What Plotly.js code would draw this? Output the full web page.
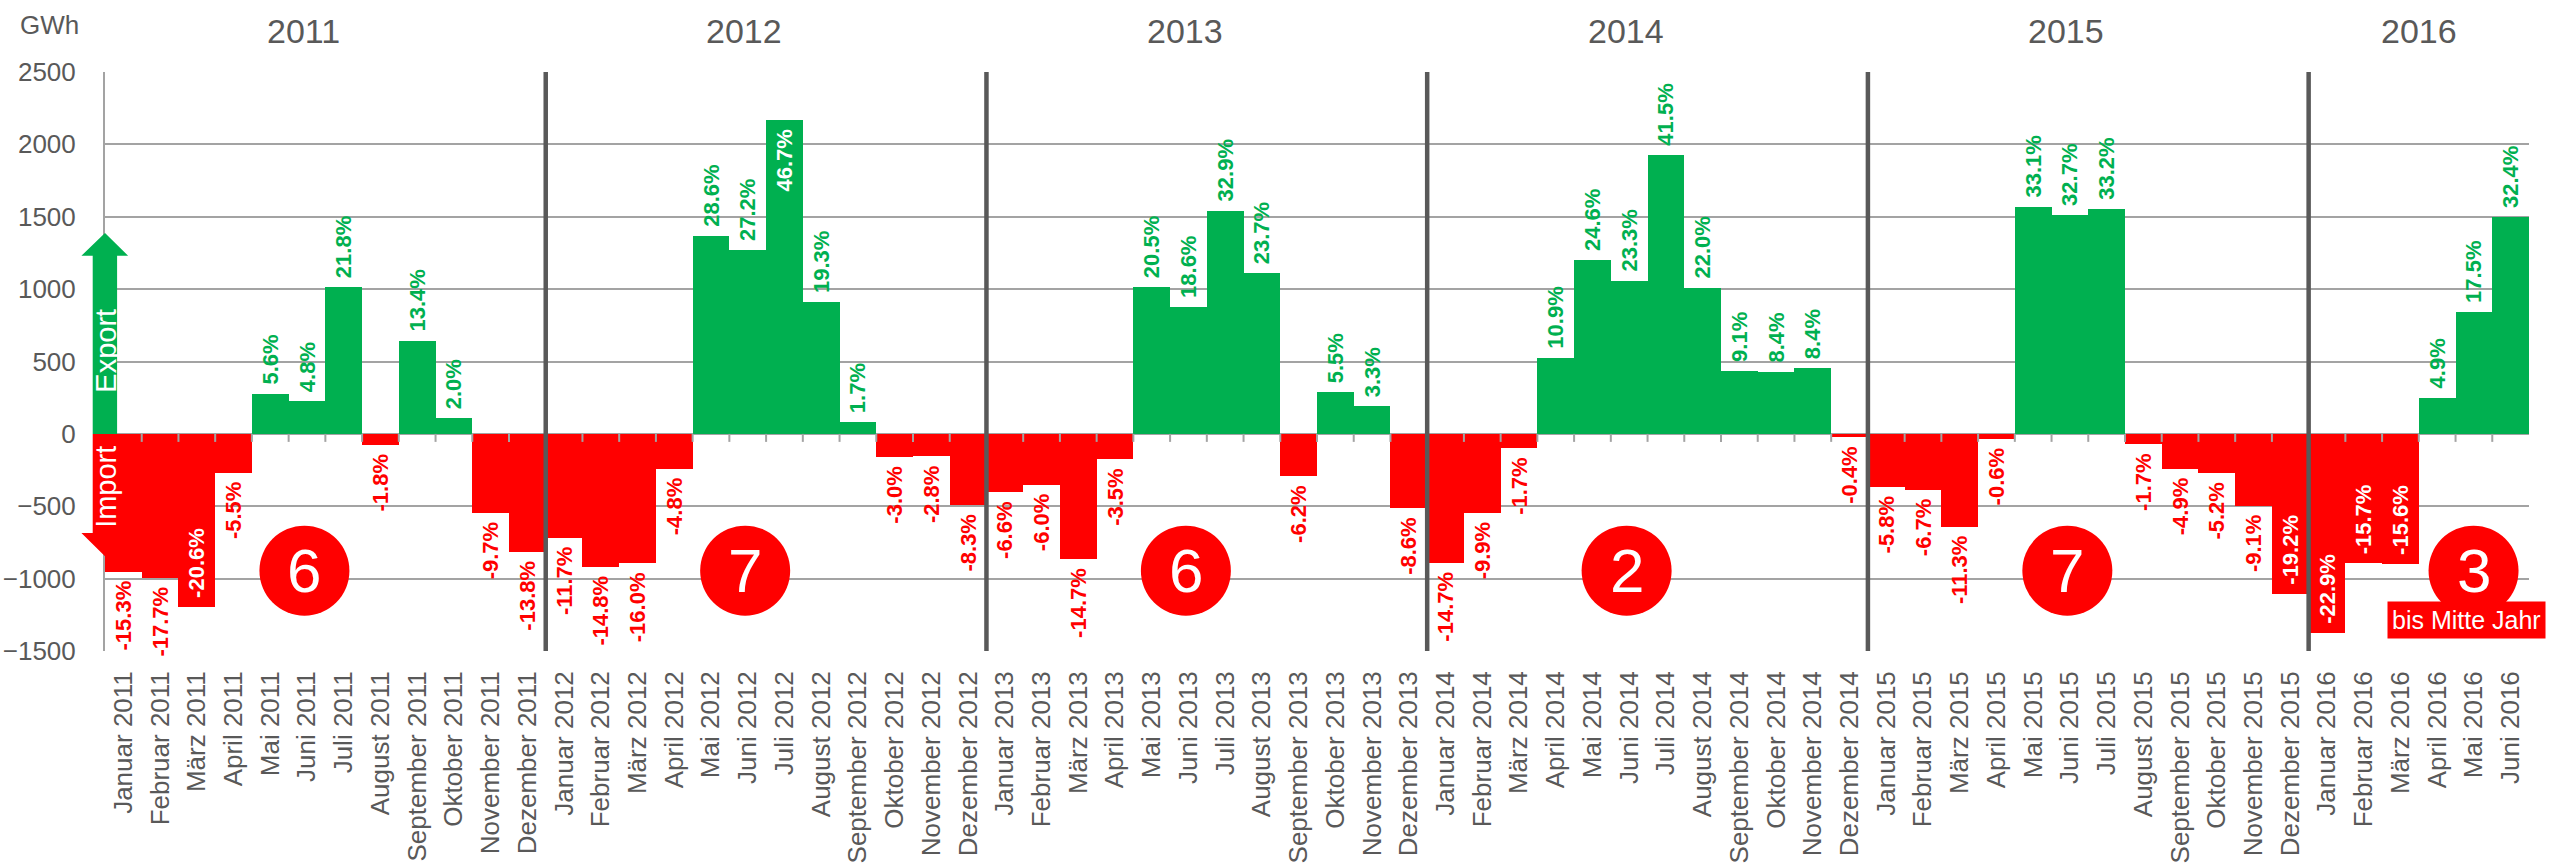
<!DOCTYPE html>
<html><head><meta charset="utf-8">
<script src="https://cdn.plot.ly/plotly-3.0.1.min.js"></script>
<style>html,body{margin:0;padding:0;background:#fff}</style>
</head><body><div id="chart" style="width:2552px;height:865px"></div>
<script>
// ---------- data ----------
const monthNames = ['Januar','Februar','März','April','Mai','Juni','Juli','August','September','Oktober','November','Dezember'];
const years = [2011, 2012, 2013, 2014, 2015, 2016];

// net exchange balance in GWh (positive = export, negative = import)
const gwh2011 = [-952, -994, -1196, -267, 278, 225, 1013, -76, 644, 107, -545, -815];
const gwh2012 = [-716, -918, -895, -240, 1368, 1269, 2168, 910, 80, -160, -156, -491];
const gwh2013 = [-404, -350, -865, -175, 1013, 876, 1543, 1109, -293, 286, 190, -514];
const gwh2014 = [-891, -545, -99, 526, 1200, 1059, 1928, 1010, 434, 430, 453, -23];
const gwh2015 = [-366, -385, -640, -34, 1570, 1512, 1554, -72, -240, -270, -495, -1105];
const gwh2016 = [-1375, -895, -899, 251, 842, 1497];

// share of consumption in %
const pct2011 = [-15.3, -17.7, -20.6, -5.5, 5.6, 4.8, 21.8, -1.8, 13.4, 2.0, -9.7, -13.8];
const pct2012 = [-11.7, -14.8, -16.0, -4.8, 28.6, 27.2, 46.7, 19.3, 1.7, -3.0, -2.8, -8.3];
const pct2013 = [-6.6, -6.0, -14.7, -3.5, 20.5, 18.6, 32.9, 23.7, -6.2, 5.5, 3.3, -8.6];
const pct2014 = [-14.7, -9.9, -1.7, 10.9, 24.6, 23.3, 41.5, 22.0, 9.1, 8.4, 8.4, -0.4];
const pct2015 = [-5.8, -6.7, -11.3, -0.6, 33.1, 32.7, 33.2, -1.7, -4.9, -5.2, -9.1, -19.2];
const pct2016 = [-22.9, -15.7, -15.6, 4.9, 17.5, 32.4];

// number of import months per year
const importMonthsPerYear = [6, 7, 6, 2, 7, 3];
const partialYearNote = 'bis Mitte Jahr';

// ---------- styles ----------
const GREEN = '#00B050', RED = '#FF0000', GREY = '#A3A3A3', DARK = '#595959';
const insideLabels = ['März 2011', 'Juli 2012', 'Dezember 2015', 'Januar 2016', 'Februar 2016', 'März 2016'];

const gwhByYear = [gwh2011, gwh2012, gwh2013, gwh2014, gwh2015, gwh2016];
const pctByYear = [pct2011, pct2012, pct2013, pct2014, pct2015, pct2016];

const cats = [], vals = [], pcts = [];
const yearStart = [];
years.forEach((y, yi) => {
  yearStart.push(cats.length);
  gwhByYear[yi].forEach((v, mi) => {
    cats.push(monthNames[mi] + ' ' + y);
    vals.push(v);
    pcts.push(pctByYear[yi][mi]);
  });
});

const NB = '\u00A0';
const isInside = cats.map(c => insideLabels.includes(c));
// pad the label on the side that faces the bar end
const txt = pcts.map((p, i) => {
  const s = p.toFixed(1) + '%';
  const pos = vals[i] >= 0;
  const leading = isInside[i] ? !pos : pos;
  return leading ? NB + s : s + NB;
});
const colors = vals.map(v => v >= 0 ? GREEN : RED);
const tpos = isInside.map(f => f ? 'inside' : 'outside');
const tcol = isInside.map((f, i) => f ? '#FFFFFF' : colors[i]);

const FONT = '"Liberation Sans", Arial, sans-serif';

const barTrace = {
  type: 'bar', x: cats, y: vals, text: txt,
  marker: {color: colors, line: {width: 0}},
  textposition: tpos, textangle: -90,
  textfont: {family: FONT, size: 22, color: tcol, weight: 'bold'},
  insidetextanchor: 'end',
  constraintext: 'none', cliponaxis: false,
  hoverinfo: 'x+y', showlegend: false
};

const shapes = [], annotations = [];
const nCat = cats.length;

// small ticks on the zero line between months
for (let i = 1; i < nCat; i++) {
  if (yearStart.includes(i)) continue;
  shapes.push({type: 'line', layer: 'above', xref: 'x', yref: 'y', x0: i - 0.5, x1: i - 0.5,
    ysizemode: 'pixel', yanchor: 0, y0: 0, y1: -8, line: {color: GREY, width: 2}});
}
// year separators
yearStart.slice(1).forEach(s => {
  shapes.push({type: 'line', layer: 'above', xref: 'x', yref: 'paper', x0: s - 0.5, x1: s - 0.5, y0: 0, y1: 1,
    line: {color: DARK, width: 4.5}});
});

// year titles + circles
years.forEach((y, yi) => {
  const n = gwhByYear[yi].length;
  const s = yearStart[yi];
  const tx = s + (n === 12 ? 4.9 : (n - 1) / 2);
  annotations.push({text: String(y), xref: 'x', yref: 'paper', x: tx, y: 1.071, xanchor: 'center', yanchor: 'middle',
    showarrow: false, font: {family: FONT, size: 34, color: DARK}});
  const cx = s + (n === 12 ? 4.93 : 3.99);
  shapes.push({type: 'circle', layer: 'above', xref: 'x', yref: 'y', xsizemode: 'pixel', ysizemode: 'pixel',
    xanchor: cx, yanchor: -945, x0: -45, x1: 45, y0: -45, y1: 45, fillcolor: RED, line: {width: 0}});
  annotations.push({text: String(importMonthsPerYear[yi]), xref: 'x', yref: 'y', x: cx, y: -945,
    xanchor: 'center', yanchor: 'middle', showarrow: false, font: {family: FONT, size: 62, color: '#FFFFFF'}});
});
annotations.push({text: partialYearNote, xref: 'x', yref: 'y', x: 63.81, y: -1283, xanchor: 'center', yanchor: 'middle',
  showarrow: false, bgcolor: RED, borderpad: 4, font: {family: FONT, size: 25, color: '#FFFFFF'}});

// Export / Import arrows on the axis
shapes.push({type: 'path', layer: 'above', xref: 'paper', yref: 'y', fillcolor: GREEN, line: {width: 0},
  path: 'M -0.00507,0 L -0.00507,1231 L -0.00973,1231 L 0,1387 L 0.00953,1231 L 0.00499,1231 L 0.00499,0 Z'});
shapes.push({type: 'path', layer: 'above', xref: 'paper', yref: 'y', fillcolor: RED, line: {width: 0},
  path: 'M -0.00507,0 L -0.00507,-684 L -0.00973,-684 L 0,-846 L 0.00953,-684 L 0.00499,-684 L 0.00499,0 Z'});
annotations.push({text: 'Export', xref: 'paper', yref: 'y', x: 0.0003, y: 573, textangle: -90, showarrow: false,
  xanchor: 'center', yanchor: 'middle', font: {family: FONT, size: 29, color: '#FFFFFF'}});
annotations.push({text: 'Import', xref: 'paper', yref: 'y', x: 0.0003, y: -368, textangle: -90, showarrow: false,
  xanchor: 'center', yanchor: 'middle', font: {family: FONT, size: 29, color: '#FFFFFF'}});

annotations.push({text: 'GWh', xref: 'paper', yref: 'paper', x: -0.0101, y: 1.082, xanchor: 'right', yanchor: 'middle',
  showarrow: false, font: {family: FONT, size: 26, color: DARK}});

const layout = {
  width: 2552, height: 865,
  margin: {l: 105, r: 23, t: 72, b: 214},
  paper_bgcolor: '#FFFFFF', plot_bgcolor: '#FFFFFF',
  bargap: 0, showlegend: false,
  xaxis: {type: 'category', tickangle: -90, showgrid: false, zeroline: false, showline: false, ticks: '',
    ticklabelstandoff: 14,
    tickfont: {family: FONT, size: 26, color: DARK},
    range: [-0.5, nCat - 0.5]},
  yaxis: {range: [-1500, 2500], dtick: 500, tick0: 0, showgrid: true, gridcolor: GREY, gridwidth: 2,
    zeroline: true, zerolinecolor: GREY, zerolinewidth: 2, showline: true, linecolor: GREY, linewidth: 2,
    ticks: '', ticklabelstandoff: 22, tickfont: {family: FONT, size: 26, color: DARK}},
  shapes: shapes, annotations: annotations
};

Plotly.newPlot('chart', [barTrace], layout, {displayModeBar: false, staticPlot: true});
</script>
</body></html>
